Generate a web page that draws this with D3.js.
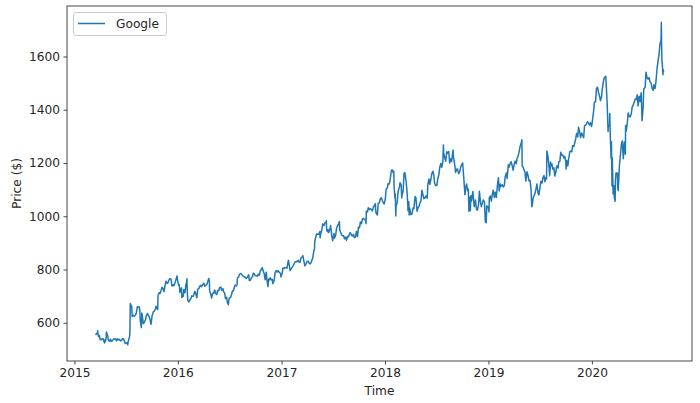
<!DOCTYPE html>
<html>
<head>
<meta charset="utf-8">
<script src="https://cdn.jsdelivr.net/npm/d3@7"></script>
<style>
  html, body { margin: 0; padding: 0; background: #fff; }
  svg { display: block; }
  text { font-family: "DejaVu Sans", sans-serif; }
</style>
</head>
<body>
<svg id="chart" width="700" height="403"></svg>
<script>
// ---- Data (Google closing price) ----
const seriesName = "Google";
const xTickYears = [2015, 2016, 2017, 2018, 2019, 2020];
const yTickValues = [600, 800, 1000, 1200, 1400, 1600];
const xLabel = "Time";
const yLabel = "Price ($)";

const p2015 = [["03-16",555],["03-19",557],["03-20",560],["03-23",558],["03-24",570],["03-25",558],["03-27",548],["03-30",552],["04-01",542],["04-02",536],["04-07",537],["04-09",540],["04-13",539],["04-14",532],["04-16",535],["04-17",524],["04-21",533],["04-23",547],["04-24",565],["04-27",555],["04-29",549],["04-30",537],["05-05",530],["05-08",538],["05-12",530],["05-15",533],["05-20",539],["05-22",540],["05-27",539],["05-29",532],["06-03",540],["06-05",536],["06-10",537],["06-12",532],["06-17",534],["06-19",540],["06-23",540],["06-26",532],["06-29",522],["07-02",523],["07-07",526],["07-08",517],["07-10",530],["07-15",551],["07-16",580],["07-17",672],["07-20",664],["07-22",662],["07-24",623],["07-28",628],["07-31",625],["08-04",629],["08-07",635],["08-11",660],["08-13",659],["08-17",660],["08-20",647],["08-21",612],["08-24",589],["08-25",582],["08-27",637],["08-28",630],["09-01",597],["09-04",600],["09-09",612],["09-11",625],["09-16",635],["09-18",630],["09-22",622],["09-25",612],["09-28",594],["09-30",608],["10-02",626],["10-07",642],["10-09",643],["10-14",652],["10-16",662],["10-21",650],["10-22",651],["10-23",702],["10-27",713],["10-30",710],["11-03",722],["11-06",733],["11-10",728],["11-13",717],["11-17",741],["11-20",756],["11-24",748],["11-27",750],["12-01",762],["12-04",766],["12-08",763],["12-11",738],["12-15",743],["12-18",739],["12-22",750],["12-29",776],["12-31",759]];

const p2016 = [["01-04",741],["01-06",743],["01-08",714],["01-12",726],["01-14",731],["01-15",695],["01-20",700],["01-22",725],["01-26",713],["01-28",730],["01-29",742],["02-01",752],["02-02",765],["02-03",726],["02-05",684],["02-09",678],["02-11",683],["02-16",691],["02-19",701],["02-24",699],["02-26",705],["03-01",718],["03-04",710],["03-08",694],["03-11",726],["03-15",728],["03-18",737],["03-22",741],["03-24",735],["03-29",744],["04-01",749],["04-05",737],["04-08",740],["04-12",743],["04-15",753],["04-19",766],["04-21",759],["04-22",719],["04-26",708],["04-29",693],["05-03",711],["05-06",711],["05-10",723],["05-13",711],["05-17",706],["05-20",721],["05-24",720],["05-27",732],["06-01",734],["06-03",722],["06-08",728],["06-10",717],["06-14",712],["06-17",691],["06-21",696],["06-24",675],["06-27",668],["06-30",692],["07-05",695],["07-08",705],["07-12",720],["07-15",720],["07-19",736],["07-22",742],["07-26",738],["07-28",745],["07-29",768],["08-03",773],["08-05",782],["08-09",785],["08-12",783],["08-16",777],["08-19",775],["08-23",773],["08-26",769],["08-30",767],["09-02",771],["09-07",780],["09-09",759],["09-13",760],["09-16",768],["09-20",772],["09-23",786],["09-27",783],["09-30",777],["10-04",776],["10-07",775],["10-11",783],["10-14",778],["10-18",795],["10-21",799],["10-25",807],["10-28",795],["11-01",783],["11-04",762],["11-08",790],["11-10",762],["11-14",736],["11-16",764],["11-18",760],["11-22",769],["11-25",761],["11-29",763],["12-01",747],["12-02",750],["12-06",759],["12-09",789],["12-13",796],["12-16",790],["12-20",796],["12-23",790],["12-28",785],["12-30",772]];

const p2017 = [["01-03",786],["01-06",806],["01-10",804],["01-13",807],["01-18",807],["01-20",805],["01-25",835],["01-27",823],["01-31",796],["02-03",802],["02-07",808],["02-10",813],["02-14",820],["02-17",828],["02-22",830],["02-24",829],["03-01",835],["03-03",829],["03-07",827],["03-10",843],["03-14",846],["03-17",852],["03-21",830],["03-24",814],["03-28",820],["03-31",829],["04-05",831],["04-07",825],["04-12",821],["04-14",824],["04-19",838],["04-21",843],["04-25",872],["04-27",874],["04-28",905],["05-03",927],["05-05",934],["05-09",932],["05-12",932],["05-16",943],["05-17",919],["05-19",935],["05-23",948],["05-26",971],["05-31",965],["06-02",975],["06-06",976],["06-08",983],["06-09",949],["06-12",942],["06-14",950],["06-16",939],["06-20",950],["06-23",965],["06-27",927],["06-30",908],["07-05",935],["07-07",918],["07-11",930],["07-14",955],["07-18",965],["07-21",972],["07-24",980],["07-25",950],["07-28",941],["08-01",930],["08-04",927],["08-08",927],["08-11",915],["08-15",922],["08-18",910],["08-22",925],["08-25",923],["08-30",938],["09-01",937],["09-06",927],["09-08",926],["09-12",932],["09-15",920],["09-19",922],["09-22",943],["09-26",924],["09-29",959],["10-03",957],["10-06",978],["10-10",972],["10-13",989],["10-17",992],["10-20",988],["10-24",988],["10-26",972],["10-27",1019],["10-31",1016],["11-03",1032],["11-07",1025],["11-10",1028],["11-14",1026],["11-17",1020],["11-21",1034],["11-24",1040],["11-28",1047],["11-29",1021],["12-01",1010],["12-05",1005],["12-08",1049],["12-12",1050],["12-15",1064],["12-19",1070],["12-22",1060],["12-27",1049],["12-29",1046]];

const p2018 = [["01-02",1065],["01-05",1102],["01-09",1106],["01-12",1122],["01-16",1121],["01-19",1137],["01-23",1169],["01-26",1175],["01-30",1163],["02-01",1169],["02-02",1111],["02-05",1068],["02-06",1084],["02-08",1001],["02-09",1037],["02-13",1052],["02-16",1094],["02-21",1111],["02-23",1126],["02-27",1118],["03-01",1069],["03-02",1079],["03-06",1095],["03-09",1160],["03-12",1164],["03-16",1135],["03-19",1100],["03-22",1053],["03-23",1021],["03-26",1054],["03-27",1005],["03-29",1031],["04-02",1006],["04-06",1008],["04-10",1031],["04-13",1029],["04-17",1074],["04-20",1070],["04-24",1019],["04-25",1022],["04-27",1031],["05-01",1037],["05-04",1049],["05-08",1058],["05-11",1098],["05-15",1080],["05-18",1066],["05-22",1069],["05-25",1076],["05-30",1068],["06-01",1119],["06-05",1140],["06-08",1120],["06-12",1139],["06-15",1160],["06-19",1169],["06-22",1155],["06-25",1124],["06-29",1115],["07-03",1116],["07-06",1140],["07-10",1156],["07-13",1183],["07-17",1198],["07-20",1184],["07-24",1205],["07-26",1268],["07-27",1238],["07-31",1218],["08-03",1207],["08-07",1242],["08-10",1237],["08-14",1243],["08-17",1200],["08-21",1216],["08-24",1206],["08-29",1249],["08-31",1218],["09-05",1186],["09-07",1164],["09-11",1177],["09-14",1177],["09-18",1160],["09-21",1166],["09-25",1184],["09-28",1193],["10-02",1200],["10-05",1157],["10-10",1081],["10-12",1105],["10-16",1121],["10-19",1096],["10-22",1102],["10-24",1019],["10-26",1071],["10-29",1021],["10-31",1077],["11-02",1057],["11-07",1093],["11-09",1066],["11-12",1036],["11-16",1061],["11-20",1025],["11-23",1023],["11-27",1044],["11-30",1094],["12-04",1051],["12-07",1036],["12-11",1052],["12-14",1061],["12-18",1053],["12-21",979],["12-24",976],["12-26",1039],["12-28",1037],["12-31",1035]];

const p2019 = [["01-03",1016],["01-04",1070],["01-08",1076],["01-11",1057],["01-15",1086],["01-18",1098],["01-22",1070],["01-25",1090],["01-29",1071],["02-01",1110],["02-05",1145],["02-08",1095],["02-12",1121],["02-15",1113],["02-19",1118],["02-22",1110],["02-26",1115],["03-01",1148],["03-05",1163],["03-08",1142],["03-12",1193],["03-15",1185],["03-19",1199],["03-22",1205],["03-25",1193],["03-29",1173],["04-02",1195],["04-05",1207],["04-09",1197],["04-12",1217],["04-16",1227],["04-18",1236],["04-23",1264],["04-26",1272],["04-29",1287],["04-30",1188],["05-03",1185],["05-07",1174],["05-10",1164],["05-13",1132],["05-17",1167],["05-21",1151],["05-24",1133],["05-28",1134],["05-31",1103],["06-03",1036],["06-05",1042],["06-07",1066],["06-11",1078],["06-14",1085],["06-18",1104],["06-21",1121],["06-25",1087],["06-28",1080],["07-02",1109],["07-05",1131],["07-09",1124],["07-12",1144],["07-16",1153],["07-19",1130],["07-23",1146],["07-25",1140],["07-26",1245],["07-30",1225],["08-02",1193],["08-05",1152],["08-08",1204],["08-09",1188],["08-13",1197],["08-16",1177],["08-20",1182],["08-23",1151],["08-27",1167],["08-30",1189],["09-04",1181],["09-06",1205],["09-10",1206],["09-13",1240],["09-17",1229],["09-20",1230],["09-24",1219],["09-27",1225],["10-01",1205],["10-02",1177],["10-04",1210],["10-08",1189],["10-11",1215],["10-15",1242],["10-18",1245],["10-22",1242],["10-25",1265],["10-29",1262],["11-01",1273],["11-05",1292],["11-08",1311],["11-12",1298],["11-15",1334],["11-19",1315],["11-22",1295],["11-26",1313],["11-29",1304],["12-03",1295],["12-06",1340],["12-10",1342],["12-13",1347],["12-17",1355],["12-20",1350],["12-24",1343],["12-27",1351],["12-31",1337]];

const p2020 = [["01-03",1360],["01-07",1394],["01-10",1429],["01-14",1430],["01-17",1480],["01-21",1484],["01-24",1466],["01-28",1452],["01-31",1434],["02-04",1448],["02-07",1480],["02-11",1508],["02-14",1520],["02-19",1526],["02-21",1485],["02-24",1421],["02-25",1388],["02-27",1318],["02-28",1339],["03-03",1341],["03-04",1386],["03-06",1298],["03-09",1216],["03-10",1280],["03-12",1114],["03-13",1219],["03-16",1084],["03-18",1097],["03-19",1115],["03-20",1072],["03-23",1056],["03-24",1134],["03-26",1162],["03-31",1162],["04-01",1105],["04-03",1097],["04-07",1187],["04-09",1211],["04-14",1269],["04-17",1283],["04-21",1216],["04-24",1279],["04-28",1233],["04-29",1341],["05-01",1320],["05-05",1351],["05-08",1388],["05-12",1375],["05-15",1373],["05-19",1385],["05-22",1410],["05-26",1418],["05-29",1428],["06-02",1440],["06-05",1438],["06-09",1456],["06-12",1414],["06-16",1451],["06-19",1431],["06-23",1464],["06-26",1359],["06-30",1413],["07-02",1477],["07-07",1485],["07-10",1541],["07-14",1519],["07-17",1515],["07-21",1521],["07-24",1505],["07-28",1500],["07-31",1482],["08-04",1473],["08-07",1494],["08-11",1480],["08-14",1505],["08-18",1555],["08-21",1580],["08-25",1609],["08-28",1645],["09-01",1660],["09-02",1729],["09-03",1641],["09-04",1591],["09-08",1532],["09-09",1550],["09-10",1541]];

// ---- Build the table ----
const parse = d3.timeParse("%Y-%m-%d");
const yearBlocks = [[2015, p2015], [2016, p2016], [2017, p2017], [2018, p2018], [2019, p2019], [2020, p2020]];
const data = [];
yearBlocks.forEach(([yr, arr]) => arr.forEach(([md, v]) => data.push({ date: parse(yr + "-" + md), value: v })));

// ---- Layout ----
const W = 700, H = 403;
const m = { left: 67, right: 8, top: 6, bottom: 42 };
const x0 = m.left, x1 = W - m.right, y0 = m.top, y1 = H - m.bottom;

const svg = d3.select("#chart");

// matplotlib-like 5% margins
const [tMin, tMax] = d3.extent(data, d => d.date);
const tPad = (tMax - tMin) * 0.05;
const x = d3.scaleTime().domain([new Date(+tMin - tPad), new Date(+tMax + tPad)]).range([x0, x1]);
const [vMin, vMax] = d3.extent(data, d => d.value);
const vPad = (vMax - vMin) * 0.05;
const y = d3.scaleLinear().domain([vMin - vPad, vMax + vPad]).range([y1, y0]);

const fs = 12.2;
const textColor = "#262626";

// Axes
const xAxis = d3.axisBottom(x)
  .tickValues(xTickYears.map(yr => new Date(yr, 0, 1)))
  .tickFormat(d3.timeFormat("%Y"))
  .tickSize(3.5).tickPadding(3.5);
const yAxis = d3.axisLeft(y)
  .tickValues(yTickValues)
  .tickFormat(d3.format("d"))
  .tickSize(3.5).tickPadding(3.5);

const gx = svg.append("g").attr("transform", `translate(0,${y1})`).call(xAxis);
const gy = svg.append("g").attr("transform", `translate(${x0},0)`).call(yAxis);
[gx, gy].forEach(g => {
  g.select(".domain").remove();
  g.selectAll(".tick line").attr("stroke", "#333").attr("stroke-width", 0.9);
  g.selectAll(".tick text").attr("fill", textColor).style("font-size", fs + "px").style("font-family", "DejaVu Sans");
});

// Line
const line = d3.line().x(d => x(d.date)).y(d => y(d.value));
svg.append("path")
  .datum(data)
  .attr("fill", "none")
  .attr("stroke", "#1f77b4")
  .attr("stroke-width", 1.5)
  .attr("stroke-linejoin", "round")
  .attr("d", line);

// Frame
svg.append("rect")
  .attr("x", x0).attr("y", y0)
  .attr("width", x1 - x0).attr("height", y1 - y0)
  .attr("fill", "none").attr("stroke", "#333").attr("stroke-width", 0.9);

// Axis labels
svg.append("text")
  .attr("x", (x0 + x1) / 2).attr("y", 395)
  .attr("text-anchor", "middle")
  .attr("fill", textColor)
  .style("font-size", fs + "px")
  .text(xLabel);
svg.append("text")
  .attr("transform", `translate(21,${(y0 + y1) / 2}) rotate(-90)`)
  .attr("text-anchor", "middle")
  .attr("fill", textColor)
  .style("font-size", fs + "px")
  .text(yLabel);

// Legend
const lg = svg.append("g");
lg.append("rect")
  .attr("x", 73.5).attr("y", 12.5).attr("width", 93).attr("height", 23)
  .attr("rx", 2.5)
  .attr("fill", "#fff").attr("fill-opacity", 0.8)
  .attr("stroke", "#ccc").attr("stroke-width", 1);
lg.append("line")
  .attr("x1", 78).attr("x2", 105).attr("y1", 23.5).attr("y2", 23.5)
  .attr("stroke", "#1f77b4").attr("stroke-width", 1.5);
lg.append("text")
  .attr("x", 116).attr("y", 28)
  .attr("fill", textColor)
  .style("font-size", fs + "px")
  .text(seriesName);
</script>
</body>
</html>
